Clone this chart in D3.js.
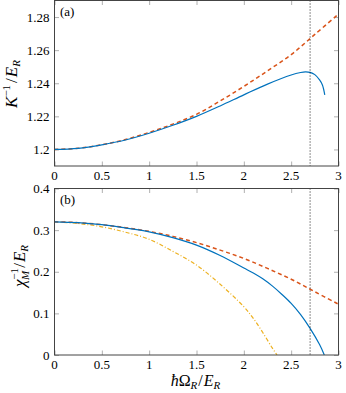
<!DOCTYPE html>
<html>
<head>
<meta charset="utf-8">
<script src="https://cdn.jsdelivr.net/npm/d3@7"></script>
<style>
  body { margin: 0; background: #fff; }
</style>
</head>
<body>
<svg id="chart" width="346" height="393"></svg>
<script>
// x ticks shared by both panels
const xTicks = [0, 0.5, 1, 1.5, 2, 2.5, 3];
const markerX = 2.7;

// panel (a): K^-1 / E_R
const aTicks = [1.2, 1.22, 1.24, 1.26, 1.28];
const aBlueX = [0, 0.25, 0.5, 0.75, 1, 1.25, 1.5, 1.75, 2, 2.25, 2.5, 2.6, 2.65, 2.7, 2.75, 2.8, 2.83, 2.855];
const aBlueY = [1.2, 1.2007, 1.2028, 1.2057, 1.2098, 1.2146, 1.2200, 1.2263, 1.2330, 1.2395, 1.2450, 1.2465, 1.2469, 1.2466, 1.2452, 1.2420, 1.2390, 1.2330];
const aRedX = [0, 0.25, 0.5, 0.75, 1, 1.25, 1.5, 1.75, 2, 2.25, 2.5, 2.75, 3];
const aRedY = [1.2, 1.2007, 1.2028, 1.2060, 1.2103, 1.2153, 1.2212, 1.2293, 1.2381, 1.2475, 1.2573, 1.2695, 1.2818];

// panel (b): chi_M^-1 / E_R
const bTicks = [0, 0.1, 0.2, 0.3, 0.4];
const bBlueX = [0, 0.25, 0.5, 0.75, 1, 1.25, 1.5, 1.75, 2, 2.1, 2.2, 2.3, 2.4, 2.5, 2.6, 2.7, 2.8, 2.85];
const bBlueY = [0.32, 0.318, 0.313, 0.305, 0.296, 0.282, 0.264, 0.239, 0.209, 0.197, 0.183, 0.166, 0.146, 0.124, 0.097, 0.064, 0.025, 0];
const bRedX = [0, 0.25, 0.5, 0.75, 1, 1.25, 1.5, 1.75, 2, 2.25, 2.5, 2.75, 3];
const bRedY = [0.32, 0.318, 0.313, 0.306, 0.297, 0.285, 0.270, 0.252, 0.232, 0.208, 0.182, 0.152, 0.122];
const bYellowX = [0, 0.25, 0.5, 0.75, 1, 1.25, 1.5, 1.75, 2, 2.1, 2.2, 2.3, 2.35];
const bYellowY = [0.32, 0.316, 0.308, 0.295, 0.278, 0.249, 0.216, 0.170, 0.116, 0.088, 0.054, 0.017, 0];

const blue = '#0072BD', red = '#D95319', yellow = '#EDB120';
const serif = '"Liberation Serif"';

const svg = d3.select('#chart');
const left = 54.5, right = 338.5;

const x = d3.scaleLinear().domain([0, 3]).range([left, right]);

function zip(xs, ys) { return xs.map((v, i) => [v, ys[i]]); }

function addText(parent) {
  return parent.append('text').style('font-family', serif).attr('fill', '#000');
}

function panel(top, bottom, yDomain, yTicks, fmt, series, tag) {
  const y = d3.scaleLinear().domain(yDomain).range([bottom, top]);
  const g = svg.append('g');

  // tick marks inside on all four sides
  const tl = 4.5;
  g.append('g').attr('transform', `translate(0,${bottom})`)
    .call(d3.axisBottom(x).tickValues(xTicks).tickSize(-tl).tickFormat(''))
    .call(a => a.select('.domain').remove());
  g.append('g').attr('transform', `translate(0,${top})`)
    .call(d3.axisTop(x).tickValues(xTicks).tickSize(-tl).tickFormat(''))
    .call(a => a.select('.domain').remove());
  g.append('g').attr('transform', `translate(${left},0)`)
    .call(d3.axisLeft(y).tickValues(yTicks).tickSize(-tl).tickFormat(''))
    .call(a => a.select('.domain').remove());
  g.append('g').attr('transform', `translate(${right},0)`)
    .call(d3.axisRight(y).tickValues(yTicks).tickSize(-tl).tickFormat(''))
    .call(a => a.select('.domain').remove());
  g.selectAll('.tick line').attr('stroke', '#b0b0b0').attr('stroke-width', 1);

  // tick labels
  xTicks.forEach(d => {
    addText(g).attr('x', x(d)).attr('y', bottom + 14)
      .attr('text-anchor', 'middle').style('font-size', '13px').text(d);
  });
  yTicks.forEach(d => {
    addText(g).attr('x', left - 5).attr('y', y(d) + 4.5)
      .attr('text-anchor', 'end').style('font-size', '13px').text(fmt(d));
  });

  const clipId = 'clip' + tag;
  svg.append('clipPath').attr('id', clipId).append('rect')
    .attr('x', left).attr('y', top).attr('width', right - left).attr('height', bottom - top);

  const line = d3.line().x(d => x(d[0])).y(d => y(d[1])).curve(d3.curveCatmullRom.alpha(0.5));
  const plot = g.append('g').attr('clip-path', `url(#${clipId})`);

  series.forEach(s => {
    plot.append('path')
      .attr('d', line(zip(s.xs, s.ys)))
      .attr('fill', 'none')
      .attr('stroke', s.color)
      .attr('stroke-width', s.width)
      .attr('stroke-dasharray', s.dash);
  });

  // vertical dotted marker
  plot.append('line')
    .attr('x1', x(markerX)).attr('x2', x(markerX))
    .attr('y1', top).attr('y2', bottom)
    .attr('stroke', '#000').attr('stroke-width', 0.9)
    .attr('stroke-dasharray', '1,2');

  // frame
  g.append('rect')
    .attr('x', left).attr('y', top).attr('width', right - left).attr('height', bottom - top)
    .attr('fill', 'none').attr('stroke', '#444').attr('stroke-width', 1);

  addText(g).attr('x', left + 5.5).attr('y', top + 15.5)
    .style('font-size', '13px').text('(' + tag + ')');

  return y;
}

panel(0.5, 166, [1.19, 1.29], aTicks, d => String(+d.toFixed(2)), [
  { xs: aRedX, ys: aRedY, color: red, width: 1.5, dash: '4,3' },
  { xs: aBlueX, ys: aBlueY, color: blue, width: 1.2, dash: null }
], 'a');

panel(188.5, 355, [0, 0.4], bTicks, d => String(+d.toFixed(1)), [
  { xs: bYellowX, ys: bYellowY, color: yellow, width: 1.2, dash: '4,2,1,2' },
  { xs: bRedX, ys: bRedY, color: red, width: 1.5, dash: '4,3' },
  { xs: bBlueX, ys: bBlueY, color: blue, width: 1.2, dash: null }
], 'b');

// axis titles
const ta = addText(svg)
  .attr('transform', 'translate(17,84) rotate(-90)')
  .attr('text-anchor', 'middle').style('font-size', '17px');
ta.append('tspan').style('font-style', 'italic').text('K');
ta.append('tspan').attr('dy', -7).style('font-size', '11px').text('−1');
ta.append('tspan').attr('dx', 2).attr('dy', 7).text('/');
ta.append('tspan').attr('dx', 1).style('font-style', 'italic').text('E');
ta.append('tspan').attr('dy', 3).style('font-size', '11px').style('font-style', 'italic').text('R');

const tb = addText(svg)
  .attr('transform', 'translate(25,266) rotate(-90)')
  .attr('text-anchor', 'middle').style('font-size', '17px');
tb.append('tspan').style('font-style', 'italic').text('χ');
tb.append('tspan').attr('dy', -7).style('font-size', '11px').text('−1');
tb.append('tspan').attr('dx', -12).attr('dy', 11).style('font-size', '11px').style('font-style', 'italic').text('M');
tb.append('tspan').attr('dx', 3).attr('dy', -4).text('/');
tb.append('tspan').attr('dx', 1).style('font-style', 'italic').text('E');
tb.append('tspan').attr('dy', 3).style('font-size', '11px').style('font-style', 'italic').text('R');

const tx = addText(svg)
  .attr('x', (left + right) / 2 - 1).attr('y', 386)
  .attr('text-anchor', 'middle').style('font-size', '16px');
tx.append('tspan').style('font-style', 'italic').text('ħ');
tx.append('tspan').text('Ω');
tx.append('tspan').attr('dy', 3).style('font-size', '11px').style('font-style', 'italic').text('R');
tx.append('tspan').attr('dx', 1).attr('dy', -3).text('/');
tx.append('tspan').attr('dx', 1).style('font-style', 'italic').text('E');
tx.append('tspan').attr('dy', 3).style('font-size', '11px').style('font-style', 'italic').text('R');
</script>
</body>
</html>
